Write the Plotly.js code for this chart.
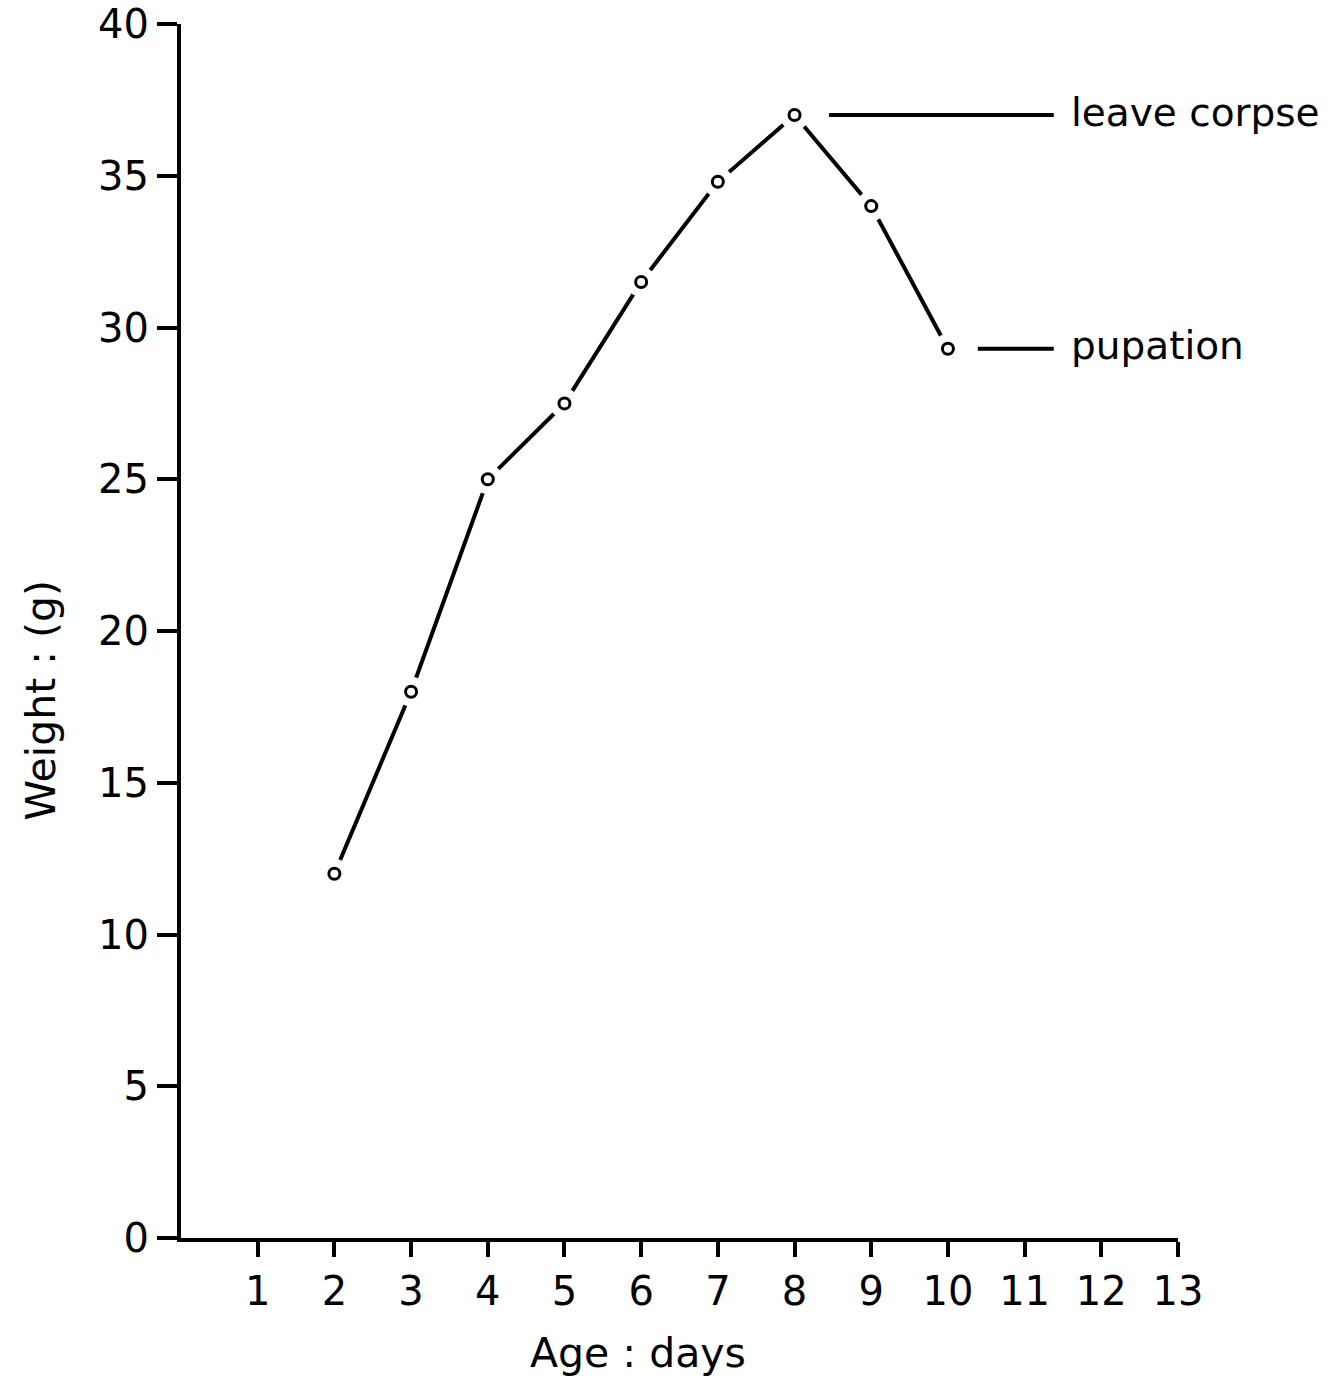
<!DOCTYPE html>
<html>
<head>
<meta charset="utf-8">
<script src="https://cdn.plot.ly/plotly-3.0.1.min.js"></script>
<style>html,body{margin:0;padding:0;background:#fff;}#chart{width:1342px;height:1382px;}</style>
</head>
<body>
<div id="chart"></div>
<script>
// ---- data ----
const ageDays = [2, 3, 4, 5, 6, 7, 8, 9, 10];
const weightG = [12.0, 18.0, 25.0, 27.5, 31.5, 34.8, 37.0, 34.0, 29.3];
const xTicks = [1, 2, 3, 4, 5, 6, 7, 8, 9, 10, 11, 12, 13];
const yTicks = [0, 5, 10, 15, 20, 25, 30, 35, 40];
const labelAges = [8, 10];
const labelWeights = [37.0, 29.3];
const labelTexts = ['leave corpse', 'pupation'];

const FONT = 'DejaVu Sans, sans-serif';

// leader lines from each labelled point to its text
const leaderStartOffset = [0.45, 0.39];
const textX = 11.58;
const shapes = labelAges.map((a, i) => ({
  type: 'line', xref: 'x', yref: 'y',
  x0: a + leaderStartOffset[i], x1: textX - 0.2,
  y0: labelWeights[i], y1: labelWeights[i],
  line: {color: '#000', width: 4}
}));

const annotations = labelTexts.map((t, i) => ({
  x: textX, y: labelWeights[i] + 0.1, xref: 'x', yref: 'y',
  xanchor: 'left', yanchor: 'middle', showarrow: false,
  text: t, font: {family: FONT, size: 39, color: '#000'}
}));
annotations.push({
  xref: 'paper', yref: 'paper', x: 0.458, y: -0.095, xanchor: 'center', yanchor: 'middle',
  showarrow: false, text: 'Age : days', font: {family: FONT, size: 41, color: '#000'}
});
annotations.push({
  xref: 'paper', yref: 'paper', x: -0.14, y: 0.443, xanchor: 'center', yanchor: 'middle',
  showarrow: false, textangle: -90, text: 'Weight : (g)', font: {family: FONT, size: 41, color: '#000'}
});

const traces = [
  {x: ageDays, y: weightG, type: 'scatter', mode: 'lines',
   line: {color: '#000', width: 4}, hoverinfo: 'skip'},
  {x: ageDays, y: weightG, type: 'scatter', mode: 'markers',
   marker: {symbol: 'circle', size: 30, color: '#fff', line: {width: 0}}, hoverinfo: 'skip'},
  {x: ageDays, y: weightG, type: 'scatter', mode: 'markers',
   marker: {symbol: 'circle', size: 11, color: '#fff', line: {color: '#000', width: 3}}}
];

const layout = {
  width: 1342, height: 1382,
  margin: {l: 181, r: 164, t: 24, b: 144},
  paper_bgcolor: '#fff', plot_bgcolor: '#fff',
  showlegend: false,
  font: {family: FONT, color: '#000'},
  xaxis: {
    range: [0, 13], tickvals: xTicks, ticktext: xTicks.map(String),
    showline: true, linecolor: '#000', linewidth: 4,
    ticks: 'outside', ticklen: 15, tickwidth: 4, tickcolor: '#000',
    showgrid: false, zeroline: false,
    tickfont: {family: FONT, size: 40, color: '#000'}
  },
  yaxis: {
    range: [0, 40], tickvals: yTicks, ticktext: yTicks.map(String),
    showline: true, linecolor: '#000', linewidth: 4,
    ticks: 'outside', ticklen: 20, tickwidth: 4, tickcolor: '#000',
    showgrid: false, zeroline: false,
    tickfont: {family: FONT, size: 40, color: '#000'}
  },
  shapes: shapes,
  annotations: annotations
};

Plotly.newPlot('chart', traces, layout, {displayModeBar: false, staticPlot: true});
</script>
</body>
</html>
